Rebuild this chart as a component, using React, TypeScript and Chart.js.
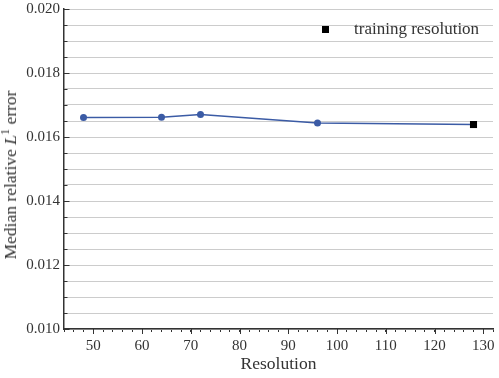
import React, { useEffect, useRef } from 'react';
import { Chart, registerables } from 'chart.js';

Chart.register(...registerables);

const resolutions = [48, 64, 72, 96, 128];
const medianErrors = [0.01661, 0.01662, 0.0167, 0.01644, 0.01639];
const trainingResolution = [128];
const trainingError = [0.01639];
const xTickLabels = [50, 60, 70, 80, 90, 100, 110, 120, 130];
const yTickLabels = ['0.010', '0.012', '0.014', '0.016', '0.018', '0.020'];

const FONT = "'Liberation Serif', 'Times New Roman', serif";
const AXIS = '#333333';
const BLUE = '#3b5ba5';

export default function App() {
  const ref = useRef<HTMLCanvasElement>(null);

  useEffect(() => {
    const canvas = ref.current;
    if (!canvas) return;

    const isMajorY = (v: number) => yTickLabels.includes(v.toFixed(3)) && Math.abs(v - parseFloat(v.toFixed(3))) < 1e-9;
    const isMajorX = (v: number) => Math.abs(v - Math.round(v)) < 1e-9 && xTickLabels.includes(Math.round(v));

    const tickPlugin = {
      id: 'tickMarks',
      beforeDatasetsDraw(chart: any) {
        const { ctx, chartArea, scales } = chart;
        const y = scales.y;
        ctx.save();
        ctx.strokeStyle = AXIS;
        ctx.lineWidth = 1;
        y.ticks.forEach((t: any) => {
          const py = Math.round(y.getPixelForValue(t.value)) + 0.5;
          const len = isMajorY(t.value) ? 5.5 : 3.5;
          ctx.beginPath();
          ctx.moveTo(chartArea.left, py);
          ctx.lineTo(chartArea.left + len, py);
          ctx.stroke();
        });
        ctx.restore();
      },
      afterDraw(chart: any) {
        const { ctx, chartArea, scales } = chart;
        const x = scales.x;
        ctx.save();
        ctx.strokeStyle = AXIS;
        ctx.lineWidth = 1;
        x.ticks.forEach((t: any) => {
          if (!isMajorX(t.value)) return;
          const px = Math.round(x.getPixelForValue(t.value)) + 0.5;
          ctx.beginPath();
          ctx.moveTo(px, chartArea.bottom);
          ctx.lineTo(px, chartArea.bottom + 5);
          ctx.stroke();
        });
        ctx.restore();
      },
    };

    const chart = new Chart(canvas, {
      type: 'line',
      data: {
        datasets: [
          {
            type: 'scatter',
            label: 'training resolution',
            data: trainingResolution.map((x, i) => ({ x, y: trainingError[i] })),
            pointStyle: 'rect',
            pointRadius: 5,
            pointBackgroundColor: '#000000',
            backgroundColor: '#000000',
            borderColor: '#000000',
            pointBorderWidth: 0,
            showLine: false,
          } as any,
          {
            label: 'median relative L1 error',
            data: resolutions.map((x, i) => ({ x, y: medianErrors[i] })),
            borderColor: BLUE,
            backgroundColor: BLUE,
            pointBackgroundColor: BLUE,
            borderWidth: 1.5,
            pointRadius: 3.5,
            pointBorderWidth: 0,
            tension: 0,
            fill: false,
          },
        ],
      },
      options: {
        animation: false,
        responsive: false,
        layout: { padding: { top: 9, right: 6, left: 0, bottom: 0 } },
        plugins: { legend: { display: false }, tooltip: { enabled: false } },
        scales: {
          x: {
            type: 'linear',
            min: 44,
            max: 132,
            ticks: {
              stepSize: 2,
              autoSkip: false,
              maxRotation: 0,
              minRotation: 0,
              padding: 5,
              color: AXIS,
              font: { family: FONT, size: 15 },
              callback: (v: any) => (isMajorX(Number(v)) ? String(Math.round(Number(v))) : ''),
            },
            grid: { drawOnChartArea: false, drawTicks: true, tickLength: 3, tickColor: AXIS, tickWidth: 1 },
            border: { display: true, color: AXIS, width: 1.5 },
            title: {
              display: true,
              text: 'Resolution',
              color: AXIS,
              font: { family: FONT, size: 17.5 },
              padding: { top: 0, bottom: 3 },
            },
            afterFit: (s: any) => {
              s.height = 49;
              s.paddingLeft = 0;
              s.paddingRight = 0;
            },
          },
          y: {
            type: 'linear',
            min: 0.01,
            max: 0.02,
            ticks: {
              stepSize: 0.0005,
              autoSkip: false,
              padding: 4,
              color: AXIS,
              font: { family: FONT, size: 15 },
              callback: (v: any) => (isMajorY(Number(v)) ? Number(v).toFixed(3) : ''),
            },
            grid: { color: '#cccccc', lineWidth: 1, drawTicks: false },
            border: { display: true, color: AXIS, width: 1.5 },
            afterFit: (s: any) => {
              s.width = 64;
              s.paddingTop = 0;
              s.paddingBottom = 0;
            },
          },
        },
      },
      plugins: [tickPlugin],
    } as any);

    return () => chart.destroy();
  }, []);

  return (
    <div style={{ position: 'fixed', left: 0, top: 0, width: 499, height: 378, background: '#ffffff', overflow: 'hidden' }}>
      <canvas ref={ref} width={499} height={378} style={{ position: 'absolute', left: 0, top: 0, width: 499, height: 378 }} />
      <div
        style={{
          position: 'absolute',
          left: 11,
          top: 175,
          transform: 'translate(-50%, -50%) rotate(-90deg)',
          fontFamily: FONT,
          fontSize: 17.5,
          color: AXIS,
          whiteSpace: 'nowrap',
          lineHeight: '18px',
        }}
      >
        Median relative <i>L</i>
        <span style={{ fontSize: '0.7em', position: 'relative', top: '-0.55em' }}>1</span> error
      </div>
      <div style={{ position: 'absolute', left: 322, top: 26, width: 7, height: 7, background: '#000000' }} />
      <div
        style={{
          position: 'absolute',
          left: 354,
          top: 20,
          fontFamily: FONT,
          fontSize: 17,
          lineHeight: '17px',
          color: AXIS,
          whiteSpace: 'nowrap',
        }}
      >
        training resolution
      </div>
    </div>
  );
}
